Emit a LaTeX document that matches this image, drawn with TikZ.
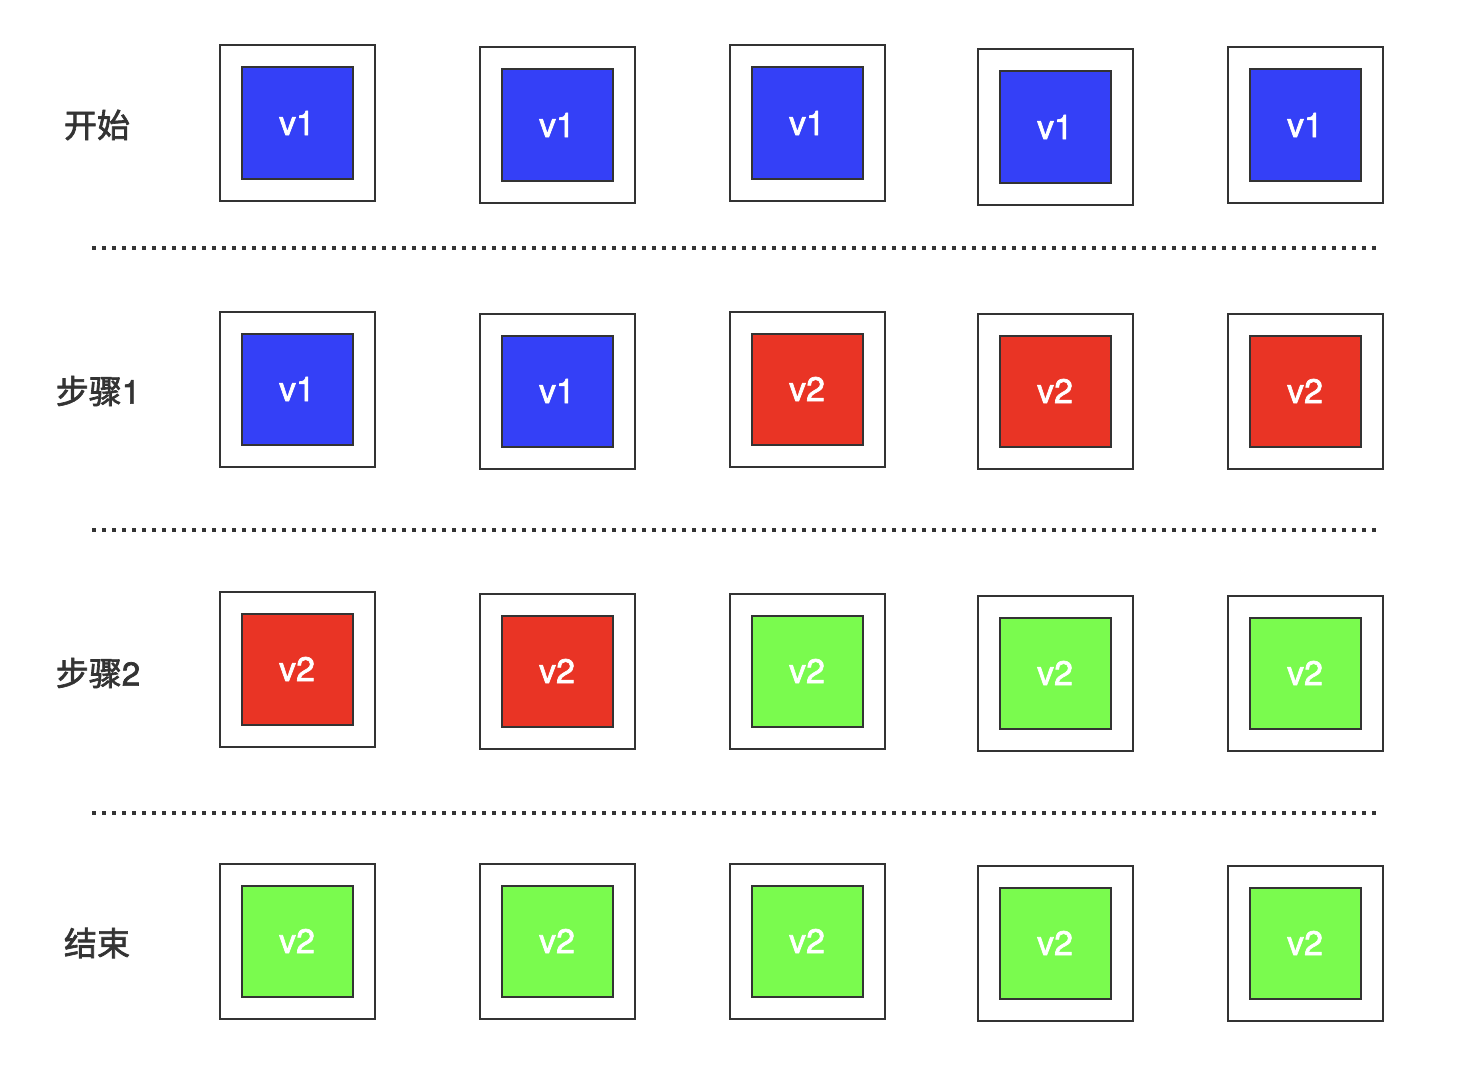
\documentclass[tikz,border=0pt]{standalone}
\usepackage{fontspec}
\setmainfont{Noto Sans CJK SC}
\newfontfamily\stagefont{Noto Sans CJK SC}[FakeBold=2]
\newfontfamily\latinfont{TeX Gyre Heros}[FakeBold=2]
\definecolor{vblue}{HTML}{3440F7}
\definecolor{vred}{HTML}{E93425}
\definecolor{vgreen}{HTML}{7AFB4E}
\definecolor{edge}{HTML}{333333}

\begin{document}
\begin{tikzpicture}[x=1pt, y=-1pt, line join=miter,
	slot/.style={draw=edge, line width=2pt, fill=white, minimum size=155pt, inner sep=0pt},
	cell/.style={draw=edge, line width=2pt, minimum size=111pt, inner sep=0pt,
		text=white, font=\latinfont\fontsize{34}{38}\selectfont},
	stage/.style={text=edge, font=\stagefont\fontsize{33}{38}\selectfont},
	sep/.style={line width=4pt, dash pattern=on 4pt off 6pt}]
\useasboundingbox (0,0) rectangle (1464,1070);
%========================
% stage labels
%========================
\node[stage] (lbl0) at (97,125) {开始};
\node[stage] (lbl1) at (98,391) {步骤{\latinfont 1}};
\node[stage] (lbl2) at (98,673) {步骤{\latinfont 2}};
\node[stage] (lbl3) at (97,943) {结束};

%========================
% rows of slots: x / y / colour / version
%========================
% start
\foreach \i/\x/\y/\c/\v in {1/297/123/vblue/v1, 2/557/125/vblue/v1, 3/807/123/vblue/v1,
		4/1055/127/vblue/v1, 5/1305/125/vblue/v1}{
	\node[slot] (s0\i) at (\x,\y) {};
	\node[cell, fill=\c] (c0\i) at (s0\i) {\v};
}
% step 1
\foreach \i/\x/\y/\c/\v in {1/297/389/vblue/v1, 2/557/391/vblue/v1, 3/807/389/vred/v2,
		4/1055/391/vred/v2, 5/1305/391/vred/v2}{
	\node[slot] (s1\i) at (\x,\y) {};
	\node[cell, fill=\c] (c1\i) at (s1\i) {\v};
}
% step 2
\foreach \i/\x/\y/\c/\v in {1/297/669/vred/v2, 2/557/671/vred/v2, 3/807/671/vgreen/v2,
		4/1055/673/vgreen/v2, 5/1305/673/vgreen/v2}{
	\node[slot] (s2\i) at (\x,\y) {};
	\node[cell, fill=\c] (c2\i) at (s2\i) {\v};
}
% end
\foreach \i/\x/\y/\c/\v in {1/297/941/vgreen/v2, 2/557/941/vgreen/v2, 3/807/941/vgreen/v2,
		4/1055/943/vgreen/v2, 5/1305/943/vgreen/v2}{
	\node[slot] (s3\i) at (\x,\y) {};
	\node[cell, fill=\c] (c3\i) at (s3\i) {\v};
}

%========================
% dotted separators
%========================
\coordinate (d0a) at (92,247.5);  \coordinate (d0b) at (1378,247.5);
\coordinate (d1a) at (92,530);    \coordinate (d1b) at (1378,530);
\coordinate (d2a) at (92,813);    \coordinate (d2b) at (1378,813);
\draw[sep, edge] (d0a) -- (d0b);
\draw[sep, edge] (d1a) -- (d1b);
\draw[sep, edge] (d2a) -- (d2b);
\end{tikzpicture}
\end{document}
